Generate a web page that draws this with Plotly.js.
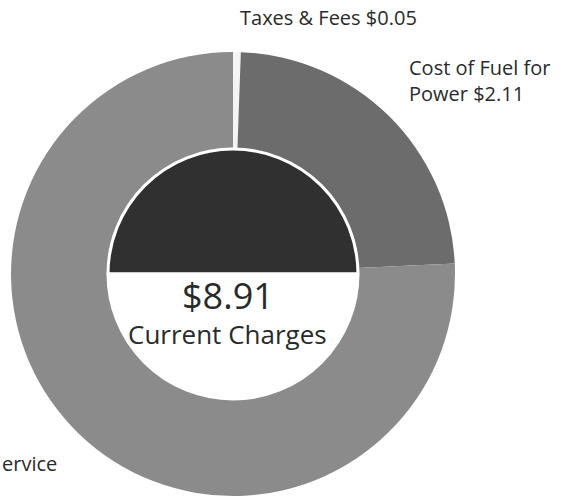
<!DOCTYPE html>
<html>
<head>
<meta charset="utf-8">
<script src="https://cdn.plot.ly/plotly-3.0.1.min.js"></script>
<style>html,body{margin:0;padding:0;background:#fff;}#chart{width:561px;height:501px;}</style>
</head>
<body>
<div id="chart"></div>
<script>
// Data
const sliceLabels = ["Taxes & Fees", "Cost of Fuel for Power", "Delivery Service"];
const sliceValues = [0.05, 2.11, 6.75];
const sliceColors = ["#f4f4f4", "#6c6c6c", "#8b8b8b"];
const totalText = "$8.91";
const totalCaption = "Current Charges";
const labelTexts = ["Taxes & Fees $0.05", "Cost of Fuel for<br>Power $2.11", "ervice"];
const centerHalves = [1, 1];
const centerColors = ["#303030", "#ffffff"];

const FONT = "'Open Sans', 'Noto Sans', sans-serif";

const outer = {
  type: "pie",
  labels: sliceLabels,
  values: sliceValues,
  sort: false,
  direction: "clockwise",
  rotation: 0,
  hole: 0.56,
  marker: {colors: sliceColors, line: {width: 0}},
  textinfo: "none",
  hoverinfo: "label+value",
  showlegend: false,
  domain: {x: [0.0196, 0.8111], y: [0.0100, 0.8962]}
};

const inner = {
  type: "pie",
  labels: ["top", "bottom"],
  values: centerHalves,
  sort: false,
  direction: "clockwise",
  rotation: -90,
  marker: {colors: centerColors, line: {color: "#ffffff", width: 3}},
  textinfo: "none",
  hoverinfo: "skip",
  showlegend: false,
  domain: {x: [0.1925, 0.6381], y: [0.2036, 0.7026]}
};

const layout = {
  width: 561, height: 501,
  margin: {l: 0, r: 0, t: 0, b: 0},
  paper_bgcolor: "#ffffff",
  font: {family: FONT, color: "#2a2a2a"},
  annotations: [
    {text: labelTexts[0], x: 0.424, y: 0.966, xref: "paper", yref: "paper", xanchor: "left", yanchor: "middle", showarrow: false, font: {size: 20, color: "#2a2a2a"}},
    {text: labelTexts[1], x: 0.725, y: 0.840, xref: "paper", yref: "paper", xanchor: "left", yanchor: "middle", align: "left", showarrow: false, font: {size: 20, color: "#2a2a2a"}},
    {text: labelTexts[2], x: 0.0, y: 0.074, xref: "paper", yref: "paper", xanchor: "left", yanchor: "middle", showarrow: false, font: {size: 20, color: "#2a2a2a"}},
    {text: totalText, x: 0.406, y: 0.411, xref: "paper", yref: "paper", xanchor: "center", yanchor: "middle", showarrow: false, font: {size: 36, color: "#2a2a2a"}},
    {text: totalCaption, x: 0.406, y: 0.333, xref: "paper", yref: "paper", xanchor: "center", yanchor: "middle", showarrow: false, font: {size: 26, color: "#2a2a2a"}}
  ]
};

Plotly.newPlot("chart", [outer, inner], layout, {displayModeBar: false, staticPlot: true});
</script>
</body>
</html>
